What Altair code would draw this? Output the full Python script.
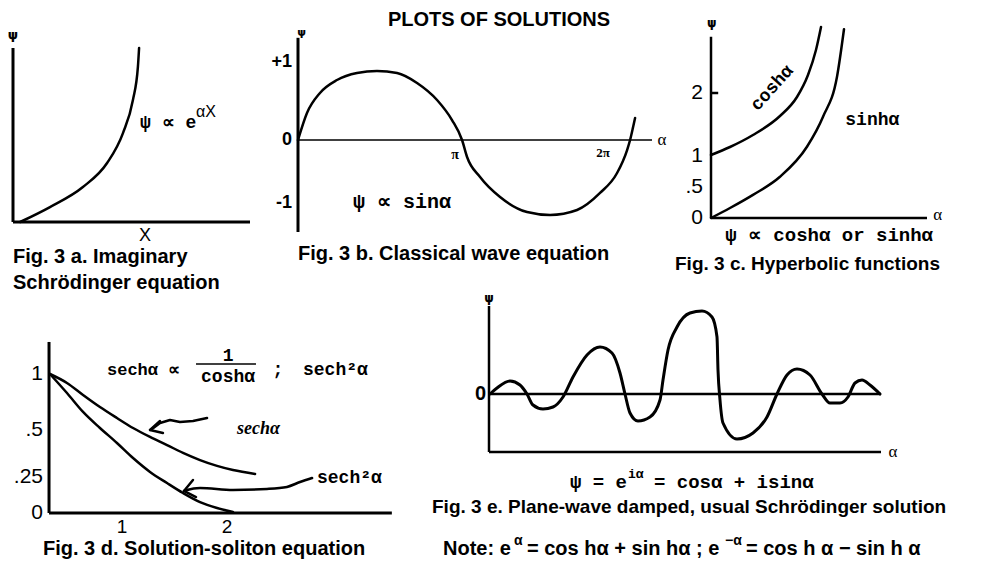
import altair as alt
import pandas as pd

OFF = 8  # page margin of the embed


def P(v):
    return v - OFF


SANS = "Liberation Sans"
MONO = "Liberation Mono"
SERIF = "Liberation Serif"

TITLE = "PLOTS OF SOLUTIONS"

# ---------------- Fig. 3a : psi ~ exp(a x) ----------------
a_x = [0.03, 0.156, 0.295, 0.397, 0.464, 0.506, 0.527, 0.532]
a_psi = [0.0, 0.086, 0.201, 0.339, 0.511, 0.701, 0.891, 1.0]

# ---------------- Fig. 3b : psi ~ sin(alpha) ----------------
b_alpha = [0.0, 0.172, 0.421, 0.747, 1.130, 1.513, 1.897, 2.280, 2.663, 2.950,
           3.142, 3.238, 3.487, 3.870, 4.387, 4.828, 5.345, 5.785, 6.111, 6.303,
           6.360, 6.418, 6.456]
b_psi = [0.0, 0.346, 0.603, 0.769, 0.859, 0.885, 0.859, 0.731, 0.513, 0.256,
         0.0, -0.270, -0.587, -0.905, -1.143, -1.190, -1.111, -0.841, -0.524, -0.159,
         0.0, 0.167, 0.282]
b_ticks = [1, 0, -1]
b_tick_labels = ["+1", "0", "-1"]

# ---------------- Fig. 3c : cosh / sinh ----------------
c_alpha_cosh = [0.0, 0.264, 0.583, 0.958, 1.194, 1.347, 1.458, 1.528]
c_cosh = [1.008, 1.136, 1.328, 1.632, 1.936, 2.288, 2.688, 3.056]
c_alpha_sinh = [0.0, 0.264, 0.583, 0.958, 1.333, 1.556, 1.75, 1.847]
c_sinh = [0.0, 0.16, 0.37, 0.66, 1.14, 1.62, 2.26, 3.02]
c_ticks = [2, 1, 0.5, 0]
c_tick_labels = ["2", "1", ".5", "0"]

# ---------------- Fig. 3d : sech / sech^2 ----------------
d_alpha = [0.314, 0.476, 0.629, 0.790, 0.952, 1.105, 1.267, 1.429, 1.581, 1.743,
           1.905, 2.057, 2.267]
d_sech = [1.0, 0.920, 0.8125, 0.705, 0.607, 0.518, 0.463, 0.420, 0.378, 0.340,
          0.309, 0.287, 0.266]
d_alpha2 = [0.314, 0.476, 0.629, 0.790, 0.952, 1.105, 1.267, 1.429, 1.581, 1.743,
            1.905, 2.057]
d_sech2 = [1.0, 0.830, 0.661, 0.518, 0.431, 0.351, 0.277, 0.208, 0.139, 0.076,
           0.035, 0.007]
d_yticks = [1, 0.5, 0.25, 0]
d_ytick_labels = ["1", ".5", ".25", "0"]
d_xticks = [1, 2]
d_xtick_labels = ["1", "2"]
# hand-drawn arrows (alpha, psi)
arrow1_alpha = [1.810, 1.676, 1.552, 1.457, 1.362, 1.286, 1.267]
arrow1_psi = [0.607, 0.580, 0.571, 0.589, 0.5625, 0.509, 0.5]
head1_alpha = [1.362, 1.267, 1.390]
head1_psi = [0.580, 0.5, 0.484]
arrow2_alpha = [2.810, 2.695, 2.571, 2.381, 2.057, 1.743, 1.619, 1.590]
arrow2_psi = [0.243, 0.215, 0.181, 0.167, 0.160, 0.174, 0.160, 0.153]
head2_alpha = [1.676, 1.590, 1.705]
head2_psi = [0.229, 0.153, 0.111]

# ---------------- Fig. 3e : damped plane wave ----------------
e_alpha = [0.025, 0.2, 0.525, 0.775, 0.95, 1.1, 1.35, 1.6, 1.85, 2.1, 2.45, 2.775,
           3.075, 3.275, 3.4, 3.525, 3.725, 4.025, 4.275, 4.35, 4.475, 4.7, 5.025,
           5.325, 5.575, 5.7, 5.725, 5.775, 5.85, 6.2, 6.6, 6.95, 7.2, 7.45, 7.7,
           8.025, 8.325, 8.525, 8.775, 8.975, 9.15, 9.325, 9.525, 9.775]
e_psi = [0.0, 0.12, 0.26, 0.18, 0.0, -0.22, -0.30, -0.26, -0.06, 0.34, 0.78, 0.94,
         0.82, 0.42, 0.0, -0.38, -0.54, -0.46, -0.12, 0.28, 0.88, 1.34, 1.62,
         1.66, 1.54, 1.14, 0.48, -0.12, -0.58, -0.90, -0.78, -0.46, 0.0, 0.38, 0.50,
         0.38, 0.0, -0.18, -0.18, -0.06, 0.22, 0.28, 0.18, 0.0]


# ---------------- helpers ----------------
def sc(domain, rng):
    return alt.Scale(domain=domain, range=[P(r) for r in rng], nice=False, zero=False)


SA = (sc([0, 1], [13, 250]), sc([0, 1], [222, 48]))
SB = (sc([0, 6.78], [298, 652]), sc([-1, 0, 1], [203, 140, 62]))
SC = (sc([0, 3.0], [711, 927]), sc([0, 3.2], [218, 18]))
SD = (sc([1, 2], [122, 227]), sc([0, 0.25, 0.5, 1], [513, 477, 430, 374]))
SE = (sc([0, 9.8], [489, 881]), sc([-1.16, 1.7], [452, 309]))


def curve(S, xs, ys, width=2.5, interp="monotone"):
    df = pd.DataFrame({"x": xs, "y": ys, "i": list(range(len(xs)))})
    return alt.Chart(df).mark_line(color="black", strokeWidth=width, interpolate=interp,
                                   strokeCap="round", strokeJoin="round").encode(
        x=alt.X("x:Q", scale=S[0], axis=None),
        y=alt.Y("y:Q", scale=S[1], axis=None),
        order="i:Q")


def segs(S, x, y, x2, y2, width=2.5):
    df = pd.DataFrame({"x": x, "y": y, "x2": x2, "y2": y2})
    return alt.Chart(df).mark_rule(color="black", strokeWidth=width).encode(
        x=alt.X("x:Q", scale=S[0], axis=None),
        y=alt.Y("y:Q", scale=S[1], axis=None),
        x2="x2:Q", y2="y2:Q")


def label(S, x, y, text, **mk):
    df = pd.DataFrame({"x": [x], "y": [y], "t": [text]})
    return alt.Chart(df).mark_text(color="black", baseline="middle", **mk).encode(
        x=alt.X("x:Q", scale=S[0], axis=None),
        y=alt.Y("y:Q", scale=S[1], axis=None),
        text="t:N")


def yticks(S, values, labels, xpix, **mk):
    df = pd.DataFrame({"y": values, "t": labels})
    return alt.Chart(df).mark_text(color="black", align="right", baseline="middle", **mk).encode(
        x=alt.value(P(xpix)),
        y=alt.Y("y:Q", scale=S[1], axis=None),
        text="t:N")


def xticks(S, values, labels, ypix, **mk):
    df = pd.DataFrame({"x": values, "t": labels})
    return alt.Chart(df).mark_text(color="black", align="center", baseline="middle", **mk).encode(
        x=alt.X("x:Q", scale=S[0], axis=None),
        y=alt.value(P(ypix)),
        text="t:N")


def free(xpix, ypix, text, **mk):
    df = pd.DataFrame({"t": [text]})
    return alt.Chart(df).mark_text(color="black", baseline="middle", **mk).encode(
        x=alt.value(P(xpix)), y=alt.value(P(ypix)), text="t:N")


CAP = dict(font=SANS, fontWeight="bold", fontSize=20, align="left")
EQ = dict(font=MONO, fontWeight="bold", fontSize=18)

layers = []

# title
layers.append(free(499, 20, TITLE, font=SANS, fontWeight="bold", fontSize=20, align="center"))

# ---- panel a ----
layers += [
    segs(SA, [0, 0], [0, 0], [0, 1], [1, 0], width=3),
    curve(SA, a_x, a_psi),
    label(SA, 0.0, 1.075, "ψ", font="DejaVu Sans", fontWeight="bold", fontSize=13),
    label(SA, 0.536, 0.569, "ψ ∝ e", align="left", **EQ),
    label(SA, 0.772, 0.63, "αX", align="left", font=SANS, fontSize=16),
    label(SA, 0.557, -0.08, "X", font=SANS, fontSize=18),
    free(13, 257, "Fig. 3 a. Imaginary", **CAP),
    free(13, 283, "Schrödinger equation", **CAP),
]

# ---- panel b ----
layers += [
    segs(SB, [0], [-1.46], [0], [1.31], width=3),
    segs(SB, [0], [0], [6.78], [0], width=1.6),
    curve(SB, b_alpha, b_psi),
    yticks(SB, b_ticks, b_tick_labels, 292, font=SANS, fontWeight="bold", fontSize=18),
    label(SB, 0.07, 1.37, "ψ", font="DejaVu Sans", fontWeight="bold", fontSize=11),
    label(SB, 3.01, -0.238, "π", font=SERIF, fontWeight="bold", fontSize=14),
    label(SB, 5.843, -0.206, "2π", font=SERIF, fontWeight="bold", fontSize=13),
    label(SB, 6.973, 0, "α", font=SERIF, fontSize=17),
    label(SB, 1.054, -0.984, "ψ ∝ sinα", align="left", font=MONO, fontWeight="bold", fontSize=20),
    free(298, 254, "Fig. 3 b. Classical wave equation", **CAP),
]

# ---- panel c ----
layers += [
    segs(SC, [0, 0, 0], [0, 0, 2], [0, 3.0, 0.1], [2.9, 0, 2], width=2.5),
    curve(SC, c_alpha_cosh, c_cosh),
    curve(SC, c_alpha_sinh, c_sinh),
    yticks(SC, c_ticks, c_tick_labels, 703, font=SANS, fontSize=21),
    label(SC, 0.01, 3.12, "ψ", font="DejaVu Sans", fontWeight="bold", fontSize=12),
    label(SC, 3.15, 0.05, "α", font=SERIF, fontSize=17),
    label(SC, 0.85, 2.08, "coshα", angle=312, **EQ),
    label(SC, 2.24, 1.57, "sinhα", **EQ),
    label(SC, 1.64, -0.27, "ψ ∝  coshα  or  sinhα", font=MONO, fontWeight="bold", fontSize=19),
    free(675, 264, "Fig. 3 c. Hyperbolic functions", font=SANS, fontWeight="bold",
         fontSize=19, align="left"),
]

# ---- panel d ----
layers += [
    segs(SD, [0.305, 0.305], [0, 0], [0.305, 3.57], [1.286, 0], width=3),
    curve(SD, d_alpha, d_sech),
    curve(SD, d_alpha2, d_sech2),
    curve(SD, arrow1_alpha, arrow1_psi, width=2.5, interp="linear"),
    curve(SD, head1_alpha, head1_psi, width=2.5, interp="linear"),
    curve(SD, arrow2_alpha, arrow2_psi, width=2.5, interp="monotone"),
    curve(SD, head2_alpha, head2_psi, width=2.5, interp="linear"),
    yticks(SD, d_yticks, d_ytick_labels, 43, font=SANS, fontSize=21),
    xticks(SD, d_xticks, d_xtick_labels, 527, font=SANS, fontSize=19),
    label(SD, 0.857, 1.036, "sechα ∝", align="left", font=MONO, fontWeight="bold", fontSize=17),
    label(SD, 2.01, 1.16, "1", **EQ),
    segs(SD, [1.705], [1.089], [2.276], [1.089], width=1.5),
    label(SD, 2.01, 0.973, "coshα", **EQ),
    label(SD, 2.486, 1.036, ";", **EQ),
    label(SD, 2.724, 1.036, "sech²α", align="left", **EQ),
    label(SD, 2.095, 0.505, "sechα", align="left", font=SERIF, fontStyle="italic",
          fontWeight="bold", fontSize=18),
    label(SD, 2.857, 0.24, "sech²α", align="left", **EQ),
    free(43, 549, "Fig. 3 d. Solution-soliton equation", **CAP),
]

# ---- panel e ----
NOTE = dict(font=SANS, fontWeight="bold", fontSize=20, align="left")
SUP = dict(font=SANS, fontWeight="bold", fontSize=14, align="left")
layers += [
    segs(SE, [0, 0, 0], [-1.16, -1.16, 0], [0, 9.8, 9.8], [1.76, -1.16, 0], width=2.5),
    curve(SE, e_alpha, e_psi, width=3),
    yticks(SE, [0], ["0"], 486, font=SANS, fontWeight="bold", fontSize=20),
    label(SE, 0.0, 1.92, "ψ", font="DejaVu Sans", fontWeight="bold", fontSize=12),
    label(SE, 10.1, -1.16, "α", font=SERIF, fontSize=17),
    free(570, 482, "ψ = e", align="left", font=MONO, fontWeight="bold", fontSize=19),
    free(628, 474, "iα", align="left", font=MONO, fontWeight="bold", fontSize=13),
    free(654, 482, "= cosα + isinα", align="left", font=MONO, fontWeight="bold", fontSize=19),
    free(432, 507, "Fig. 3 e. Plane-wave damped, usual Schrödinger solution", font=SANS,
         fontWeight="bold", fontSize=19, align="left"),
    free(443, 549, "Note: e", **NOTE),
    free(514, 541, "α", **SUP),
    free(527, 549, "= cos hα  +  sin hα ; e", **NOTE),
    free(725, 541, "−α", **SUP),
    free(746, 549, "= cos h α  −  sin h α", **NOTE),
]

chart = alt.layer(*layers).resolve_scale(
    x="independent", y="independent"
).properties(
    width=979, height=553, padding=0,
    autosize=alt.AutoSizeParams(type="none"),
    background="white",
).configure_view(stroke=None)

chart.save("out.html", embed_options={"renderer": "svg", "actions": False})
